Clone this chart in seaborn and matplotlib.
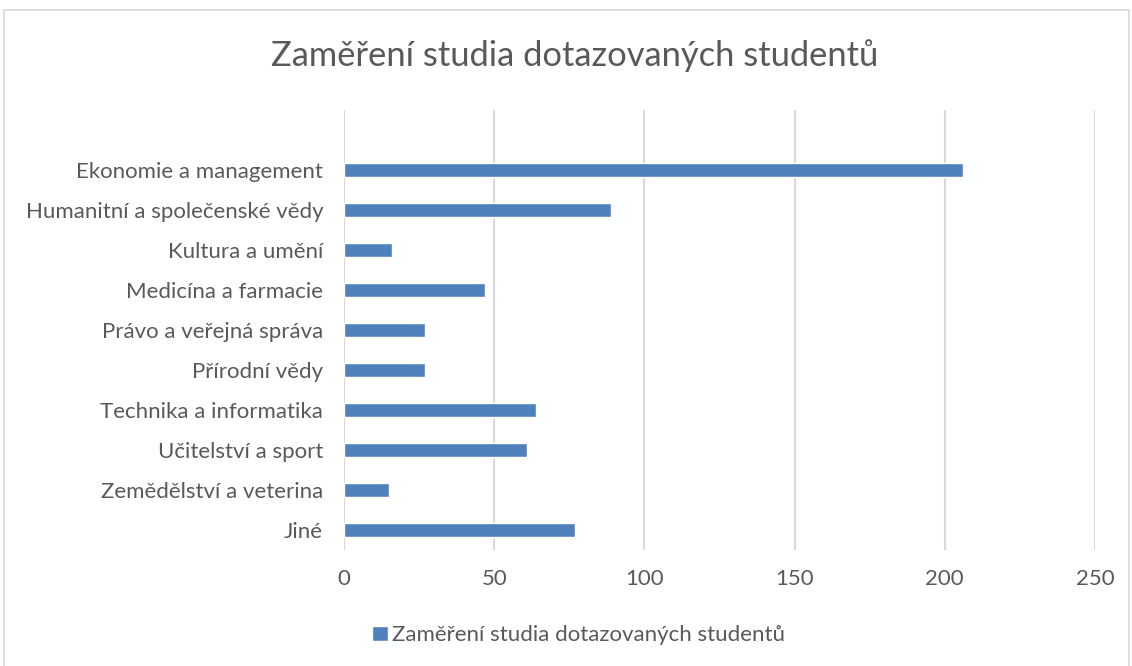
import pandas as pd
import matplotlib.pyplot as plt
import matplotlib.patches as mpatches
import seaborn as sns

obory = ['Ekonomie a management', 'Humanitní a společenské vědy', 'Kultura a umění',
         'Medicína a farmacie', 'Právo a veřejná správa', 'Přírodní vědy',
         'Technika a informatika', 'Učitelství a sport', 'Zemědělství a veterina', 'Jiné']
pocty = [206, 89, 16, 47, 27, 27, 64, 61, 15, 77]
nazev = 'Zaměření studia dotazovaných studentů'

df = pd.DataFrame({'obor': obory, 'pocet': pocty})

sns.set_style('white')
plt.rcParams['font.family'] = ['Lato', 'DejaVu Sans']
txt = '#595959'

fig = plt.figure(figsize=(11.32, 6.66), dpi=100)
ax = fig.add_axes([0.3039, 0.1742, 0.6634, 0.6607])

sns.barplot(data=df, x='pocet', y='obor', orient='h', color='#4f81bd',
            width=0.33, saturation=1, label=nazev, ax=ax)

ax.set_xlim(0, 250)
ax.set_ylim(9.5, -1.5)
ax.set_xticks([0, 50, 100, 150, 200, 250])
ax.grid(axis='x', color='#d9d9d9', linewidth=1.5)
ax.set_axisbelow(True)
for s in ax.spines.values():
    s.set_visible(False)
ax.tick_params(length=0, labelsize=16, colors=txt, pad=15)
ax.tick_params(axis='x', pad=14)
ax.set_xlabel('')
ax.set_ylabel('')

fig.text(0.508, 0.916, nazev, ha='center', va='center', fontsize=24.8, color=txt)

ax.legend(loc='center', bbox_to_anchor=(0.511, 0.046), bbox_transform=fig.transFigure,
          frameon=False, fontsize=16, labelcolor=txt, handlelength=0.7,
          handleheight=0.7, handletextpad=0.2)

fig.patches.append(mpatches.Rectangle((4 / 1132, -0.01), 1125 / 1132, 1 - 10 / 666 + 0.01,
                                      transform=fig.transFigure, fill=False,
                                      edgecolor='#d9d9d9', linewidth=1.2))

fig.savefig('out.png', dpi=100)
